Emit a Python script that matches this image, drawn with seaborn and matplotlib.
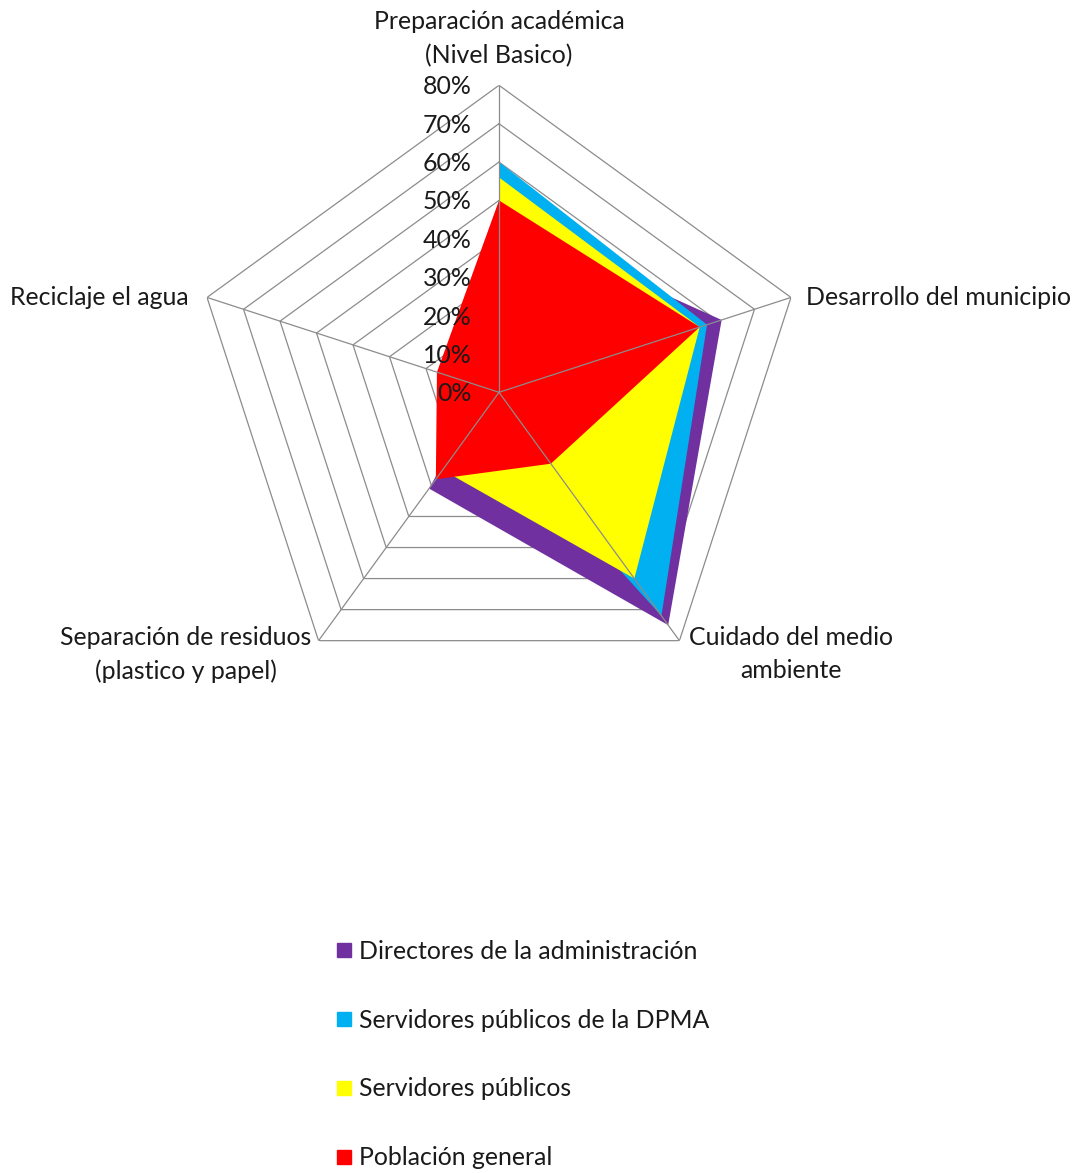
import numpy as np
import matplotlib
matplotlib.use("Agg")
import matplotlib.pyplot as plt
from matplotlib.lines import Line2D
import seaborn as sns

# Radar categories (clockwise from the top)
categories = [
    "Preparación académica\n(Nivel Basico)",
    "Desarrollo del municipio",
    "Cuidado del medio\nambiente",
    "Separación de residuos\n(plastico y papel)",
    "Reciclaje el agua",
]

series_names = [
    "Directores de la administración",
    "Servidores públicos de la DPMA",
    "Servidores públicos",
    "Población general",
]

# Shares per category, in the same order as `categories`
directores = [0.45, 0.61, 0.75, 0.31, 0.04]
servidores_dpma = [0.60, 0.57, 0.72, 0.08, 0.00]
servidores = [0.56, 0.55, 0.60, 0.25, 0.00]
poblacion = [0.50, 0.55, 0.23, 0.28, 0.17]

series_colors = ["#7030A0", "#00B0F0", "#FFFF00", "#FF0000"]

r_ticks = [0.0, 0.1, 0.2, 0.3, 0.4, 0.5, 0.6, 0.7, 0.8]
r_tick_labels = ["0%", "10%", "20%", "30%", "40%", "50%", "60%", "70%", "80%"]

sns.set_theme(style="white")
plt.rcParams["font.family"] = ["Lato", "DejaVu Sans"]
FS = 17.9
GRID = "#8c8c8c"
TXT = "#1a1a1a"

W, H = 1076, 1173
fig = plt.figure(figsize=(W / 100, H / 100), dpi=100)

cx, cy, rad = 499, 392.3, 307
ax = fig.add_axes([(cx - rad) / W, 1 - (cy + rad) / H, 2 * rad / W, 2 * rad / H],
                  projection="polar")
ax.set_theta_offset(np.pi / 2)
ax.set_theta_direction(-1)
ax.set_ylim(0, r_ticks[-1])
ax.grid(False)
ax.spines["polar"].set_visible(False)
ax.set_xticks([])
ax.set_yticks([])
ax.patch.set_alpha(0)

n = len(categories)
angles = np.linspace(0, 2 * np.pi, n, endpoint=False)
closed = np.append(angles, angles[0])

# Pentagon rings under the filled areas
for t in r_ticks[1:]:
    ax.plot(closed, [t] * (n + 1), color=GRID, lw=0.9, zorder=1)

palette = sns.color_palette(series_colors)
all_series = [directores, servidores_dpma, servidores, poblacion]
for vals, col in zip(all_series, palette):
    v = np.append(vals, vals[0])
    ax.fill(closed, v, color=col, lw=0, zorder=2)

# Spokes on top of the fills
for a in angles:
    ax.plot([a, a], [0, r_ticks[-1]], color=GRID, lw=0.9, zorder=3)

# Radial value labels along the top spoke
for t, lab in zip(r_ticks, r_tick_labels):
    ax.annotate(lab, xy=(0, t), xytext=(-27, -1.5), textcoords="offset pixels",
                ha="right", va="center", fontsize=FS, color=TXT,
                annotation_clip=False, zorder=6)

# Category labels
label_style = [
    dict(xytext=(0, 18), ha="center", va="bottom"),
    dict(xytext=(15, 0), ha="left", va="center"),
    dict(xytext=(10, 15), ha="left", va="top"),
    dict(xytext=(-7, 15), ha="right", va="top"),
    dict(xytext=(-18, 0), ha="right", va="center"),
]
for a, lab, st in zip(angles, categories, label_style):
    ax.annotate(lab, xy=(a, r_ticks[-1]), textcoords="offset pixels",
                fontsize=FS, color=TXT, multialignment="center",
                annotation_clip=False, linespacing=1.55, **st)

handles = [Line2D([], [], marker="s", linestyle="none", markersize=10.5,
                  markerfacecolor=c, markeredgecolor=c) for c in palette]
fig.legend(handles, series_names, loc="upper left",
           bbox_to_anchor=(335 / W, 1 - 940 / H), frameon=False,
           fontsize=FS, handlelength=0.7, handletextpad=0.25,
           labelspacing=1.84, borderpad=0, borderaxespad=0,
           labelcolor=TXT)

fig.savefig("out.png", dpi=100, facecolor="white")
